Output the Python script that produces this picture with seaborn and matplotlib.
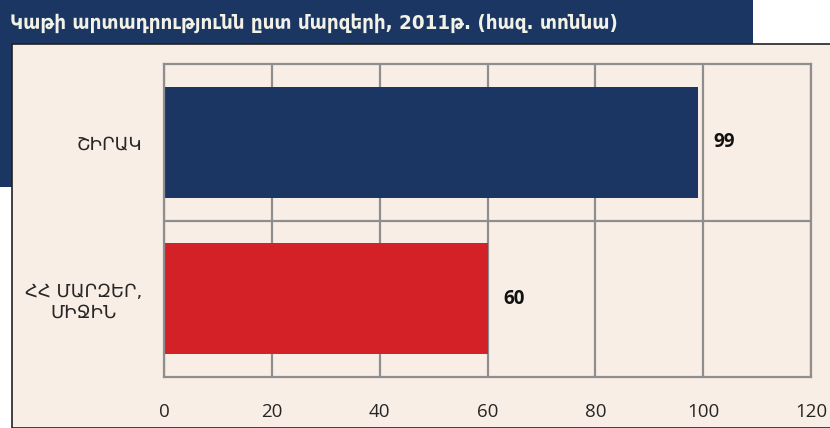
import matplotlib
matplotlib.use("Agg")
import matplotlib.pyplot as plt
import seaborn as sns
import pandas as pd
from matplotlib.patches import Rectangle

title = "Կաթի արտադրությունն ըստ մարզերի, 2011թ. (հազ. տոննա)"
categories = ["ՇԻՐԱԿ", "ՀՀ ՄԱՐԶԵՐ,\nՄԻՋԻՆ"]
values = [99, 60]
colors = ["#1C3664", "#D42027"]
xticks = [0, 20, 40, 60, 80, 100, 120]

sns.set_theme(style="white")
plt.rcParams['font.family'] = ['DejaVu Sans']

W, H = 830, 428
fig = plt.figure(figsize=(W / 100, H / 100), dpi=100)
fig.patch.set_facecolor("white")

navy = "#1C3664"
cream = "#F9EEE6"
fig.patches.append(Rectangle((0, 1 - 187 / H), 753 / W, 187 / H, transform=fig.transFigure,
                             facecolor=navy, edgecolor="none", zorder=-3))
fig.patches.append(Rectangle((12 / W, 0), 1 - 12 / W + 0.01, 1 - 44 / H, transform=fig.transFigure,
                             facecolor=cream, edgecolor="#222222", linewidth=1.2, zorder=-2))
fig.text(10 / W, 1 - 23 / H, title, color="#F2F2E6", fontsize=14.7, fontweight="bold",
         va="center", ha="left", family=["DejaVu Sans"], fontstretch="condensed")

ax = fig.add_axes([164 / W, 1 - 377 / H, (811 - 164) / W, (377 - 64) / H])
ax.set_facecolor(cream)

df = pd.DataFrame({"category": categories, "value": values})
sns.barplot(data=df, x="value", y="category", hue="category", palette=colors,
            orient="h", width=0.71, legend=False, ax=ax, saturation=1, linewidth=0)

ax.set_xlim(0, 120)
ax.set_ylim(1.5, -0.5)
ax.set_xticks(xticks)
ax.set_xticklabels([str(t) for t in xticks], family=["Open Sans", "DejaVu Sans"], fontsize=13.5)
ax.set_yticks(range(len(categories)))
ax.set_yticklabels(categories, fontsize=13, multialignment="center")
ax.set_yticks([0.5], minor=True)
ax.tick_params(axis="both", which="both", length=0)
ax.tick_params(axis="x", pad=19)
ax.tick_params(axis="y", pad=16)
ax.set_xlabel("")
ax.set_ylabel("")
grid_c = "#8E8E8E"
ax.grid(True, axis="x", which="major", color=grid_c, linewidth=1.6)
ax.grid(True, axis="y", which="minor", color=grid_c, linewidth=1.6)
ax.grid(False, axis="y", which="major")
ax.set_axisbelow(True)
for s in ax.spines.values():
    s.set_visible(True)
    s.set_color(grid_c)
    s.set_linewidth(1.6)

for i, v in enumerate(values):
    ax.annotate(str(v), xy=(v, i), xytext=(16, 0), textcoords="offset pixels",
                va="center", ha="left", fontsize=13.5, fontweight="bold",
                family=["Open Sans", "DejaVu Sans"], color="#111111")

fig.savefig("out.png", dpi=100, facecolor=fig.get_facecolor())
